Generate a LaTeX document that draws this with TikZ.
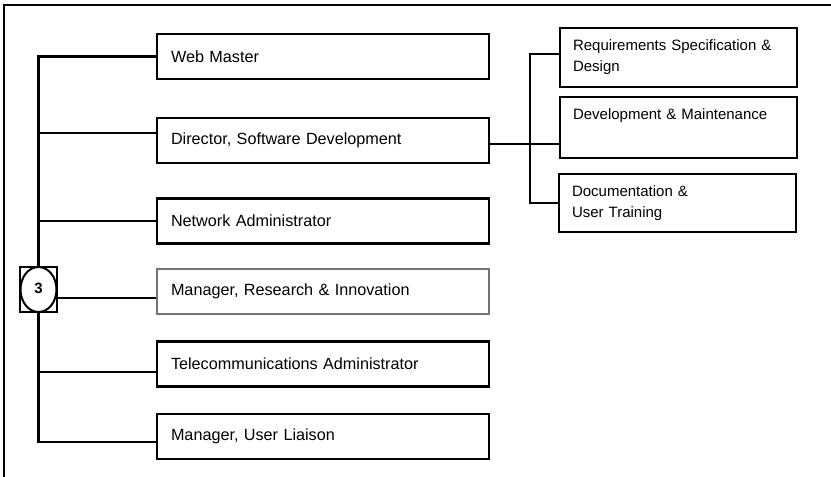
\documentclass[tikz,border=0pt]{standalone}
\usepackage{fontspec}
\setmainfont{Liberation Sans}
\usetikzlibrary{shapes.geometric}
\begin{document}
\begin{tikzpicture}[x=1pt,y=-1pt,
  every node/.style={font=\fontsize{15}{21}\selectfont},
  lbox/.style={draw=black, line width=2.4pt, fill=white, minimum width=332pt, minimum height=45pt,
    text width=304pt, inner sep=0pt, align=left, font=\fontsize{16.2}{21}\selectfont},
  rbox/.style={draw=black, line width=2.4pt, fill=white, minimum width=237pt,
    text width=211pt, inner sep=0pt, align=left},
  conn/.style={line width=2.4pt, draw=black},
  frame/.style={line width=2.4pt, draw=black}]
\useasboundingbox (0,0) rectangle (831,477);
\draw[frame] (4,477) -- (4,5) -- (831,5);

% left boxes
\node[lbox] (wm)  at (323,56.5)  {Web Master};
\node[lbox] (dir) at (323,140.5) {Director, Software Development};
\node[lbox] (net) at (323,221)   {Network Administrator};
\node[lbox, draw=black!55] (mri) at (323,291.5) {Manager, Research \& Innovation};
\node[lbox] (tel) at (323,364)   {Telecommunications Administrator};
\node[lbox] (mul) at (323,436.5) {Manager, User Liaison};

% right boxes
\node[rbox, minimum height=59pt] (req) at (678.5,57.5)  {Requirements Specification \&\\Design};
\node[rbox, minimum height=61pt] (dev) at (678.5,127.5) {Development \& Maintenance\\\strut};
\node[rbox, minimum height=58pt] (doc) at (677.5,203)   {Documentation \&\\User Training};

% number node
\node[draw=black, line width=2.4pt, fill=white, minimum width=37pt, minimum height=45pt, inner sep=0pt] (sq) at (38.5,289.5) {};
\node[ellipse, draw=black, line width=2pt, fill=white, minimum width=36pt, minimum height=45pt, inner sep=0pt,
  font=\fontsize{15}{17}\selectfont\bfseries] (three) at (sq.center) {\raisebox{3pt}{3}};

% coordinates for connector rows
\coordinate (j2) at (0,133);
\coordinate (j4) at (0,298);
\coordinate (j5) at (0,372);
\coordinate (j6) at (0,442);
\coordinate (k0) at (530,144);
\coordinate (k1) at (530,54);

% left trunk
\draw[conn] (wm.west) -| (sq.north);
\draw[conn] (j2 -| sq.north) -- (j2 -| dir.west);
\draw[conn] (net.west) -- (net.west -| sq.north);
\draw[conn] (j4 -| sq.east) -- (j4 -| mri.west);
\draw[conn] (sq.south) -- (j6 -| sq.south) -- (j6 -| mul.west);
\draw[conn] (j5 -| sq.south) -- (j5 -| tel.west);

% right subtree
\draw[conn] (k0 -| dir.east) -- (k0 -| dev.west);
\draw[conn] (k1 -| req.west) -- (k1) -- (doc.west -| k1) -- (doc.west);
\end{tikzpicture}
\end{document}
